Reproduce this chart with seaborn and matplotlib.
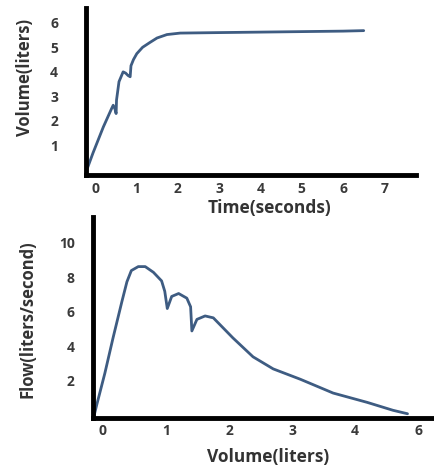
import matplotlib
matplotlib.use('Agg')
import matplotlib.pyplot as plt
import seaborn as sns
import pandas as pd

sns.set_style('white')
plt.rcParams['font.family'] = ['Open Sans', 'DejaVu Sans']

# volume-time curve
time_s = [-0.2, -0.05, 0.2, 0.4, 0.44, 0.48, 0.51, 0.52, 0.58, 0.68, 0.74,
          0.8, 0.85, 0.87, 0.93, 1.01, 1.15, 1.33, 1.5, 1.74, 2.06, 3.0, 4.0,
          5.0, 6.0, 6.5]
volume_l = [0.0, 0.69, 1.75, 2.5, 2.64, 2.5, 2.3, 2.85, 3.6, 4.0, 3.95,
            3.85, 3.8, 4.25, 4.5, 4.74, 5.0, 5.2, 5.38, 5.52, 5.58, 5.6, 5.62,
            5.64, 5.66, 5.68]
time_ticks = [0, 1, 2, 3, 4, 5, 6, 7]
vol_ticks = [1, 2, 3, 4, 5, 6]

# flow-volume curve
vol_x = [-0.14, -0.10, 0.03, 0.16, 0.30, 0.38, 0.45, 0.56, 0.67, 0.80, 0.93,
         0.98, 1.02, 1.09, 1.20, 1.33, 1.39, 1.41, 1.49, 1.62, 1.75, 2.06,
         2.38, 2.70, 3.13, 3.65, 4.19, 4.6, 4.83]
flow_y = [0.0, 0.6, 2.45, 4.5, 6.6, 7.75, 8.4, 8.63, 8.63, 8.3, 7.8,
          7.2, 6.2, 6.9, 7.07, 6.8, 6.3, 4.9, 5.57, 5.77, 5.66, 4.5,
          3.4, 2.7, 2.1, 1.3, 0.76, 0.3, 0.1]
vol_x_ticks = [0, 1, 2, 3, 4, 5]
vol_x_labels = ['0', '1', '2', '3', '4', '6']
flow_ticks = [2, 4, 6, 8, 10]

line_col = '#3e5c82'
tick_col = '#3a3a3a'

fig = plt.figure(figsize=(4.34, 4.74), dpi=100)
ax1 = fig.add_axes([0.198, 0.631, 0.761, 0.352])
ax2 = fig.add_axes([0.214, 0.118, 0.786, 0.424])

df1 = pd.DataFrame({'t': time_s, 'v': volume_l})
df2 = pd.DataFrame({'v': vol_x, 'f': flow_y})
sns.lineplot(data=df1, x='t', y='v', sort=False, estimator=None, ax=ax1,
             color=line_col, linewidth=2, solid_joinstyle='round')
sns.lineplot(data=df2, x='v', y='f', sort=False, estimator=None, ax=ax2,
             color=line_col, linewidth=2, solid_joinstyle='round')

ax1.set_xlim(-0.22, 7.77)
ax1.set_ylim(-0.2, 6.6)
ax1.set_xticks(time_ticks)
ax1.set_yticks(vol_ticks)
ax1.tick_params(axis='y', length=0, pad=20, labelsize=10, labelcolor=tick_col)
ax1.tick_params(axis='x', length=0, pad=5, labelsize=10, labelcolor=tick_col)

ax2.set_xlim(-0.16, 5.25)
ax2.set_ylim(-0.15, 11.5)
ax2.set_xticks(vol_x_ticks)
ax2.set_xticklabels(vol_x_labels)
ax2.set_yticks(flow_ticks)
ax2.tick_params(axis='y', length=0, pad=13, labelsize=10, labelcolor=tick_col)
ax2.tick_params(axis='x', length=0, pad=4, labelsize=10, labelcolor=tick_col)

for ax in (ax1, ax2):
    ax.set_xlabel('')
    ax.set_ylabel('')
    for lab in ax.get_xticklabels() + ax.get_yticklabels():
        lab.set_fontweight('bold')
    for s in ('top', 'right'):
        ax.spines[s].set_visible(False)
    for s in ('left', 'bottom'):
        ax.spines[s].set_linewidth(3.5)
        ax.spines[s].set_color('black')

fig.text(270/434, 1 - 208/474, 'Time(seconds)', ha='center', va='center',
         fontsize=12.5, fontweight='bold', color='#333333')
fig.text(25/434, 1 - 78/474, 'Volume(liters)', ha='center', va='center',
         rotation=90, fontsize=12, fontweight='bold', color='#333333')
fig.text(28/434, 1 - 319/474, 'Flow(liters/second)', ha='center', va='center',
         rotation=90, fontsize=12, fontweight='bold', color='#333333')
fig.text(268/434, 1 - 457/474, 'Volume(liters)', ha='center', va='center',
         fontsize=12.5, fontweight='bold', color='#333333')

plt.savefig('out.png', dpi=100)
